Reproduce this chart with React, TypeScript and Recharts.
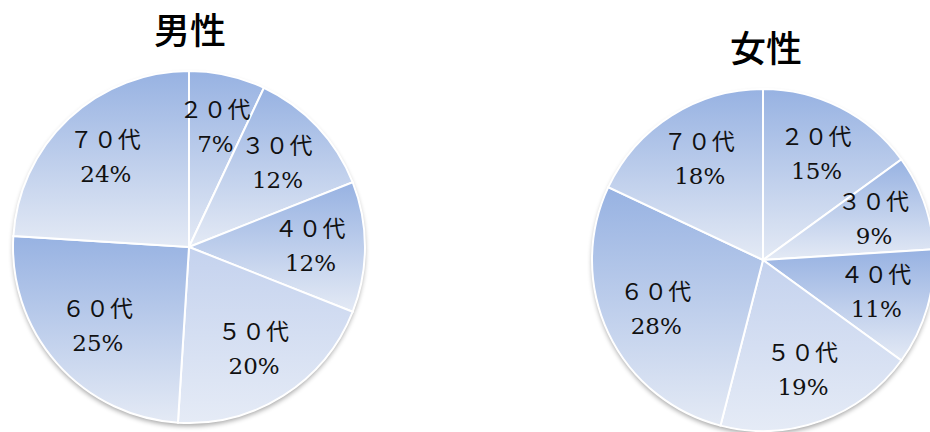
import React from "react";
import { PieChart, Pie, Cell } from "recharts";

const categories = ["２０代", "３０代", "４０代", "５０代", "６０代", "７０代"];
const maleValues = [7, 12, 12, 20, 25, 24];
const femaleValues = [15, 9, 11, 19, 28, 18];
const titles = ["男性", "女性"];

const maleData = categories.map((name, i) => ({ name, value: maleValues[i] }));
const femaleData = categories.map((name, i) => ({ name, value: femaleValues[i] }));

const sliceFills = [
  "url(#sliceGrad)",
  "url(#sliceGrad)",
  "url(#sliceGrad)",
  "url(#sliceGradLight)",
  "url(#sliceGrad)",
  "url(#sliceGrad)",
];

const RAD = Math.PI / 180;

const renderLabel = (props: any) => {
  const { cx, cy, midAngle, outerRadius, percent, name } = props;
  const r = outerRadius * 0.69;
  const x = cx + r * Math.cos(-midAngle * RAD);
  const y = cy + r * Math.sin(-midAngle * RAD);
  return (
    <text x={x} y={y} textAnchor="middle" fill="#111">
      <tspan
        x={x}
        dy={-10}
        style={{ fontFamily: "'Noto Sans CJK JP', sans-serif", fontSize: 23, letterSpacing: 1 }}
      >
        {name}
      </tspan>
      <tspan
        x={x}
        dy={34}
        style={{ fontFamily: "'DejaVu Serif', serif", fontSize: 23 }}
      >
        {`${Math.round(percent * 100)}%`}
      </tspan>
    </text>
  );
};

const titleStyle: React.CSSProperties = {
  position: "absolute",
  width: 140,
  textAlign: "center",
  fontFamily: "'Noto Sans CJK JP', sans-serif",
  fontSize: 36,
  fontWeight: 500,
  lineHeight: "44px",
  color: "#000",
};

export default function App() {
  return (
    <div
      style={{
        position: "relative",
        width: 930,
        height: 432,
        overflow: "hidden",
        background: "#ffffff",
      }}
    >
      <style>{"html,body{margin:0;padding:0;overflow:hidden}"}</style>
      <div style={{ ...titleStyle, left: 190 - 70, top: 6 }}>{titles[0]}</div>
      <div style={{ ...titleStyle, left: 766 - 70, top: 24 }}>{titles[1]}</div>
      <PieChart
        width={930}
        height={432}
        margin={{ top: 0, right: 0, bottom: 0, left: 0 }}
        style={{ position: "absolute", left: 0, top: 0 }}
      >
        <defs>
          <linearGradient id="sliceGrad" x1="0" y1="0" x2="0" y2="1">
            <stop offset="0%" stopColor="#97b2e2" />
            <stop offset="100%" stopColor="#e4eaf5" />
          </linearGradient>
          <linearGradient id="sliceGradLight" x1="0" y1="0" x2="0" y2="1">
            <stop offset="0%" stopColor="#c4d2ee" />
            <stop offset="100%" stopColor="#e5ebf6" />
          </linearGradient>
          <filter id="pieShadow" x="-10%" y="-10%" width="120%" height="125%">
            <feGaussianBlur in="SourceAlpha" stdDeviation="2.5" />
            <feOffset dx="0" dy="3" result="b" />
            <feComponentTransfer>
              <feFuncA type="linear" slope="0.35" />
            </feComponentTransfer>
            <feMerge>
              <feMergeNode />
              <feMergeNode in="SourceGraphic" />
            </feMerge>
          </filter>
        </defs>
        <Pie
          data={[{ name: "bg", value: 1 }]}
          dataKey="value"
          cx={189}
          cy={247}
          outerRadius={176}
          startAngle={90}
          endAngle={-270}
          stroke="none"
          isAnimationActive={false}
          label={false}
        >
          <Cell fill="#ffffff" filter="url(#pieShadow)" />
        </Pie>
        <Pie
          data={[{ name: "bg", value: 1 }]}
          dataKey="value"
          cx={763}
          cy={260}
          outerRadius={171}
          startAngle={90}
          endAngle={-270}
          stroke="none"
          isAnimationActive={false}
          label={false}
        >
          <Cell fill="#ffffff" filter="url(#pieShadow)" />
        </Pie>
        <Pie
          data={maleData}
          dataKey="value"
          nameKey="name"
          cx={189}
          cy={247}
          outerRadius={176}
          startAngle={90}
          endAngle={-270}
          stroke="#ffffff"
          strokeWidth={2}
          labelLine={false}
          label={renderLabel}
          isAnimationActive={false}
        >
          {maleData.map((d, i) => (
            <Cell key={d.name} fill={sliceFills[i]} />
          ))}
        </Pie>
        <Pie
          data={femaleData}
          dataKey="value"
          nameKey="name"
          cx={763}
          cy={260}
          outerRadius={171}
          startAngle={90}
          endAngle={-270}
          stroke="#ffffff"
          strokeWidth={2}
          labelLine={false}
          label={renderLabel}
          isAnimationActive={false}
        >
          {femaleData.map((d, i) => (
            <Cell key={d.name} fill={sliceFills[i]} />
          ))}
        </Pie>
      </PieChart>
    </div>
  );
}
